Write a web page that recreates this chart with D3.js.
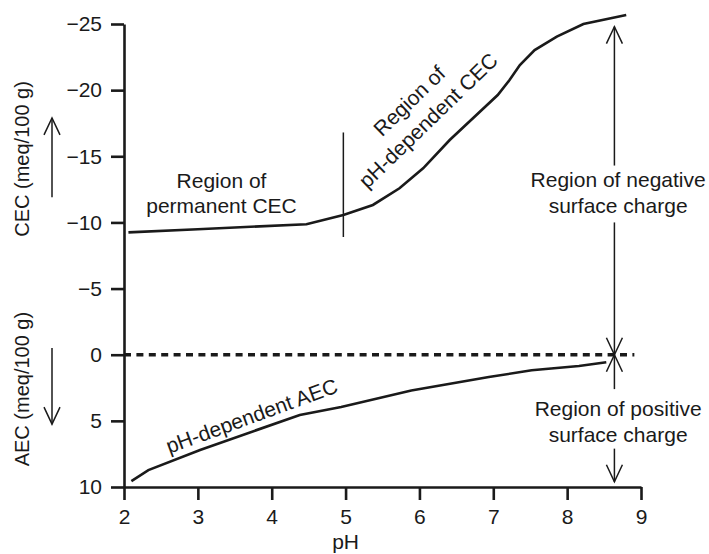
<!DOCTYPE html>
<html>
<head>
<meta charset="utf-8">
<script src="https://cdn.jsdelivr.net/npm/d3@7"></script>
<style>
  body { margin: 0; background: #fff; }
  svg text { font-family: "Liberation Sans", Arial, Helvetica, sans-serif; fill: #1a1a1a; }
</style>
</head>
<body>
<div id="chart"></div>
<script>
// CEC curve (negative = cation exchange)
const cecPH  = [2.06, 3.0, 4.47, 4.97, 5.37, 5.73, 6.05, 6.41, 7.06, 7.22, 7.36, 7.56, 7.86, 8.22, 8.80];
const cecVal = [-9.25, -9.49, -9.86, -10.56, -11.32, -12.58, -14.09, -16.23, -19.63, -20.76, -21.9, -23.03, -24.04, -25.0, -25.68];

// AEC curve (positive = anion exchange)
const aecPH  = [2.10, 2.33, 3.03, 4.38, 4.94, 5.89, 6.94, 7.52, 8.16, 8.53];
const aecVal = [9.55, 8.72, 7.2, 4.55, 3.95, 2.70, 1.69, 1.18, 0.85, 0.57];

const xTicks = [2, 3, 4, 5, 6, 7, 8, 9];
const yTicks = [-25, -20, -15, -10, -5, 0, 5, 10];

const margin = { top: 24, right: 68, bottom: 67, left: 124 };
const width = 709 - margin.left - margin.right;
const height = 554 - margin.top - margin.bottom;

const svg = d3.select("#chart")
    .append("svg")
    .attr("width", 709)
    .attr("height", 554)
    .append("g")
    .attr("transform", "translate(" + margin.left + "," + margin.top + ")");

const x = d3.scaleLinear().domain([2, 9]).range([0, width]);
const y = d3.scaleLinear().domain([-25, 10]).range([0, height]);

const ink = "#1a1a1a";
const fs = 21;

// axes
const yAxis = svg.append("g")
    .call(d3.axisLeft(y).tickValues(yTicks).tickSize(13).tickSizeOuter(0).tickPadding(9)
        .tickFormat(d => d < 0 ? "\u2212" + Math.abs(d) : d));
const xAxis = svg.append("g")
    .attr("transform", "translate(0," + height + ")")
    .call(d3.axisBottom(x).tickValues(xTicks).tickSize(13).tickSizeOuter(0).tickPadding(9)
        .tickFormat(d3.format("d")));

[xAxis, yAxis].forEach(a => {
    a.selectAll("path, line").attr("stroke", ink).attr("stroke-width", 2.6);
    a.selectAll("text").attr("font-size", fs).style("fill", ink);
});

svg.append("text")
    .attr("x", x(5))
    .attr("y", height + 62)
    .attr("text-anchor", "middle")
    .attr("font-size", fs)
    .text("pH");

// y labels with arrows in the left margin
svg.append("text")
    .attr("transform", "translate(" + (-95) + "," + y(-14.8) + ") rotate(-90)")
    .attr("text-anchor", "middle")
    .attr("font-size", 20)
    .text("CEC (meq/100 g)");
svg.append("text")
    .attr("transform", "translate(" + (-95) + "," + y(2.6) + ") rotate(-90)")
    .attr("text-anchor", "middle")
    .attr("font-size", 20)
    .text("AEC (meq/100 g)");

function arrow(g, x0, y0, y1) {
    // straight vertical line with open head at y1
    g.append("line")
        .attr("x1", x0).attr("x2", x0)
        .attr("y1", y0).attr("y2", y1)
        .attr("stroke", ink).attr("stroke-width", 1.5);
    const d = y1 < y0 ? 17 : -17;
    g.append("path")
        .attr("d", `M${x0 - 8},${y1 + d} L${x0},${y1} L${x0 + 8},${y1 + d}`)
        .attr("fill", "none").attr("stroke", ink).attr("stroke-width", 1.5);
}

arrow(svg, -72, y(-11.9), y(-17.9));
arrow(svg, -72, y(-0.5), y(5.25));

// zero line
svg.append("line")
    .attr("x1", x(2)).attr("x2", x(8.91))
    .attr("y1", y(0)).attr("y2", y(0))
    .attr("stroke", ink)
    .attr("stroke-width", 3.6)
    .attr("stroke-dasharray", "7,5.4");

// curves
const line = d3.line().x(d => x(d[0])).y(d => y(d[1]));
svg.append("path")
    .datum(cecPH.map((p, i) => [p, cecVal[i]]))
    .attr("d", line)
    .attr("fill", "none").attr("stroke", ink).attr("stroke-width", 2.6);
svg.append("path")
    .datum(aecPH.map((p, i) => [p, aecVal[i]]))
    .attr("d", line)
    .attr("fill", "none").attr("stroke", ink).attr("stroke-width", 2.6);

// divider between permanent and pH-dependent regions
svg.append("line")
    .attr("x1", x(4.97)).attr("x2", x(4.97))
    .attr("y1", y(-16.8)).attr("y2", y(-8.9))
    .attr("stroke", ink).attr("stroke-width", 1.5);

// region arrows on the right
const ax = x(8.64);
arrow(svg, ax, y(-14.3), y(-24.8));
arrow(svg, ax, y(-10.0), y(0));
arrow(svg, ax, y(2.6), y(0));
arrow(svg, ax, y(7.1), y(9.6));

// annotations
function label(lines, cx, cy, gap, rot, y0) {
    const g = svg.append("g")
        .attr("transform", `translate(${cx},${cy}) rotate(${rot || 0})`);
    lines.forEach((t, i) => {
        g.append("text")
            .attr("y", (y0 || 0) + i * gap)
            .attr("text-anchor", "middle")
            .attr("font-size", fs)
            .text(t);
    });
}

label(["Region of", "permanent CEC"], x(3.32), y(-12.6), 25);
label(["Region of", "pH-dependent CEC"], x(6.12), y(-17.7), 27, -44, -20);
label(["Region of negative", "surface charge"], x(8.69), y(-12.7), 26);
label(["Region of positive", "surface charge"], x(8.69), y(4.6), 26);
label(["pH-dependent AEC"], x(3.73), y(4.65), 0, -20, 7);
</script>
</body>
</html>
